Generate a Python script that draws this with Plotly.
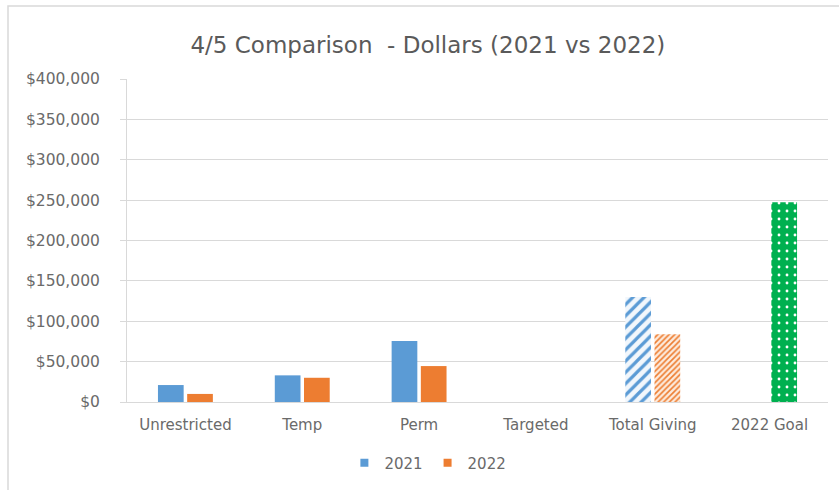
import plotly.graph_objects as go

categories = ["Unrestricted", "Temp", "Perm", "Targeted", "Total Giving", "2022 Goal"]
values_2021 = [21000, 33000, 75500, 0, 130000, 0]
values_2022 = [10000, 30000, 44500, 0, 84000, 247500]
tick_vals = [0, 50000, 100000, 150000, 200000, 250000, 300000, 350000, 400000]
tick_text = ["$0", "$50,000", "$100,000", "$150,000", "$200,000", "$250,000", "$300,000", "$350,000", "$400,000"]

blue = "#5B9BD5"
orange = "#ED7D31"
green = "#00B050"
gray = "#6A6A6A"
font = "DejaVu Sans"


def pick(values, keep):
    return [v if keep(c) else None for c, v in zip(categories, values)]


fig = go.Figure()
# solid bars
fig.add_trace(go.Bar(
    x=categories, y=pick(values_2021, lambda c: c not in ("Total Giving", "2022 Goal")),
    name="2021", showlegend=False, offsetgroup="a", marker=dict(color=blue, line=dict(width=0)),
))
fig.add_trace(go.Bar(
    x=categories, y=pick(values_2022, lambda c: c not in ("Total Giving", "2022 Goal")),
    name="2022", showlegend=False, offsetgroup="b", marker=dict(color=orange, line=dict(width=0)),
))
# patterned bars
fig.add_trace(go.Bar(
    x=categories, y=pick(values_2021, lambda c: c == "Total Giving"),
    name="2021", showlegend=False, offsetgroup="a",
    marker=dict(color=blue, line=dict(width=0),
                pattern=dict(shape="/", bgcolor="#F2F7FC", size=8, solidity=0.4, fillmode="replace")),
))
fig.add_trace(go.Bar(
    x=categories, y=pick(values_2022, lambda c: c == "Total Giving"),
    name="2022", showlegend=False, offsetgroup="b",
    marker=dict(color=orange, line=dict(width=0),
                pattern=dict(shape="/", bgcolor="#FDEBDD", size=4, solidity=0.4, fillmode="replace")),
))
fig.add_trace(go.Bar(
    x=categories, y=pick(values_2022, lambda c: c == "2022 Goal"),
    name="2022 Goal", showlegend=False, offsetgroup="b",
    marker=dict(color="#FFFFFF", line=dict(width=0),
                pattern=dict(shape=".", bgcolor=green, size=8, solidity=0.1, fillmode="replace")),
))
# legend entries with small square swatches
fig.add_trace(go.Scatter(x=[None], y=[None], mode="markers", name="2021",
                         marker=dict(symbol="square", size=8, color=blue)))
fig.add_trace(go.Scatter(x=[None], y=[None], mode="markers", name="2022",
                         marker=dict(symbol="square", size=8, color=orange)))

fig.update_layout(
    width=839, height=490,
    margin=dict(l=127, r=11, t=79, b=88),
    paper_bgcolor="white", plot_bgcolor="white",
    barmode="group", bargap=0.5, bargroupgap=0.12,
    font=dict(family=font, color=gray, size=14),
    title=dict(text="4/5 Comparison  - Dollars (2021 vs 2022)", x=0.51, xref="container", xanchor="center",
               y=0.908, yref="container", yanchor="middle",
               font=dict(family=font, size=23, color="#5A5A5A")),
    legend=dict(orientation="h", x=0.51, xref="container", xanchor="center", y=0.055, yref="container",
                yanchor="middle", font=dict(size=15, color=gray), itemwidth=30, traceorder="normal"),
    xaxis=dict(showline=True, linecolor="#D9D9D9", linewidth=1, ticks="", tickfont=dict(size=15, color=gray),
               showgrid=False, ticklabelstandoff=9),
    yaxis=dict(range=[0, 400000], tickvals=tick_vals, ticktext=tick_text, showgrid=True, gridcolor="#D9D9D9",
               gridwidth=1, showline=True, linecolor="#D9D9D9", ticks="outside", ticklen=6, tickcolor="#D9D9D9",
               zeroline=False, tickfont=dict(size=15.5, color=gray), ticklabelstandoff=17),
    shapes=[dict(type="rect", xref="paper", yref="paper", x0=-119/701, x1=1.1, y0=-1.0, y1=1 + 73/323,
                 line=dict(color="#D9D9D9", width=1.5), fillcolor="rgba(0,0,0,0)", layer="below")],
)

fig.write_html("out.html")
